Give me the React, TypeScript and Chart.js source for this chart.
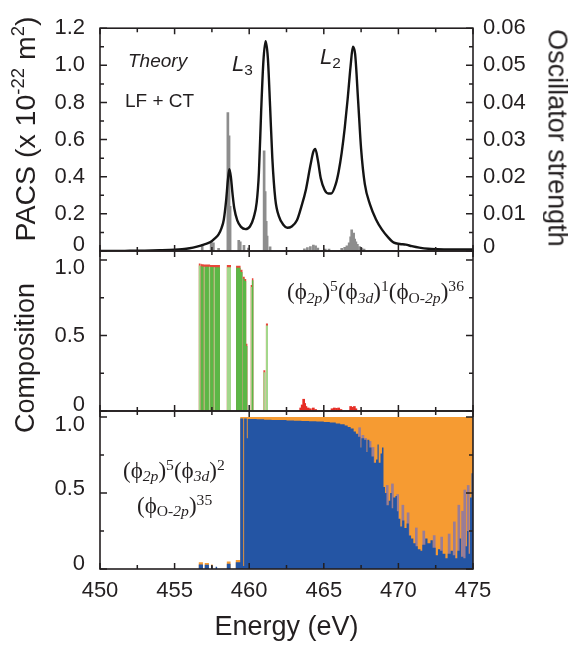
import React, { useEffect, useRef } from "react";
import { Chart, registerables } from "chart.js";

Chart.register(...registerables);

// ---------------- data ----------------
// Top panel: photoabsorption cross section (PACS, left axis)
const pacsEnergy = [
  450.0, 451.0, 452.0, 453.0, 454.0, 455.0, 455.5, 456.0, 456.5, 457.0, 457.4, 457.7, 457.95,
  458.15, 458.3, 458.45, 458.57, 458.67, 458.77, 458.88, 459.0, 459.2, 459.45, 459.75, 460.05,
  460.3, 460.5, 460.65, 460.8, 460.95, 461.1, 461.25, 461.4, 461.55, 461.75, 462.0, 462.3,
  462.55, 462.85, 463.2, 463.5, 463.8, 464.1, 464.3, 464.43, 464.6, 464.8, 465.05, 465.3,
  465.5, 465.8, 466.0, 466.2, 466.4, 466.6, 466.8, 466.95, 467.1, 467.3, 467.5, 467.75,
  468.1, 468.5, 468.9, 469.3, 469.7, 470.1, 470.5, 470.9, 471.4, 472.0, 472.6, 473.5, 474.3, 475.0,
];
const pacsValue = [
  0.0, 0.0, 0.001, 0.002, 0.004, 0.007, 0.01, 0.015, 0.024, 0.036, 0.048, 0.068, 0.09,
  0.125, 0.17, 0.27, 0.38, 0.44, 0.4, 0.31, 0.23, 0.165, 0.13, 0.118, 0.132,
  0.18, 0.26, 0.42, 0.75, 1.02, 1.13, 1.04, 0.78, 0.5, 0.28, 0.185, 0.14,
  0.125, 0.132, 0.165, 0.24, 0.33, 0.46, 0.535, 0.55, 0.49, 0.39, 0.33, 0.31,
  0.31, 0.36, 0.43, 0.53, 0.66, 0.82, 1.0, 1.1, 1.06, 0.81, 0.55, 0.36,
  0.25, 0.17, 0.115, 0.075, 0.045, 0.038, 0.034, 0.026, 0.018, 0.012, 0.01, 0.009, 0.009, 0.009,
];
// Top panel: oscillator strengths (right axis)
const stickEnergy = [
  456.85, 457.45, 457.6, 457.95, 458.57, 458.65, 458.72, 459.3, 459.4, 459.65, 459.95,
  461.0, 461.07, 461.14, 461.2, 461.4, 463.7, 463.9, 464.1, 464.3, 464.45, 464.6, 465.1, 465.35,
  466.2, 466.4, 466.55, 466.7, 466.8, 466.87, 466.93, 467.0, 467.07, 467.15, 467.25, 467.4, 467.55, 467.7,
];
const stickStrength = [
  0.0018, 0.0024, 0.0022, 0.0007, 0.0373, 0.031, 0.012, 0.0029, 0.0025, 0.0015, 0.0008,
  0.027, 0.016, 0.008, 0.004, 0.0011, 0.0006, 0.0009, 0.0012, 0.0016, 0.0014, 0.0008, 0.0005, 0.0005,
  0.0007, 0.001, 0.0014, 0.0022, 0.0038, 0.0057, 0.0045, 0.0048, 0.0032, 0.0025, 0.0018, 0.0012, 0.0008, 0.0005,
];

// Middle panel: (phi2p)5(phi3d)1(phiO-2p)36 composition
const greenStart = [
  456.62, 456.74, 456.8, 456.95, 457.02, 457.3, 457.38, 457.62, 457.7, 458.5,
  459.12, 459.42, 459.58, 459.7, 459.8, 460.1, 460.18, 460.95, 461.12,
];
const greenEnd = [
  456.72, 456.8, 456.95, 457.02, 457.3, 457.38, 457.62, 457.7, 458.04, 458.78,
  459.42, 459.55, 459.7, 459.8, 459.88, 460.18, 460.28, 461.08, 461.26,
];
const greenValue = [
  0.978, 0.975, 0.972, 0.97, 0.97, 0.97, 0.968, 0.967, 0.967, 0.967,
  0.963, 0.935, 0.89, 0.875, 0.445, 0.835, 0.88, 0.27, 0.58,
];
const greenTone = [
  "light", "dark", "dark", "light", "dark", "light", "dark", "light", "dark", "light",
  "dark", "dark", "dark", "dark", "dark", "light", "dark", "light", "light",
];
const redEnergy = [
  463.45, 463.55, 463.65, 463.72, 463.8, 463.95, 464.1, 464.3, 464.45,
  465.55, 465.7, 465.85, 466.0, 466.15, 466.8, 466.9, 467.05, 467.15,
];
const redValue = [
  0.02, 0.04, 0.078, 0.05, 0.03, 0.02, 0.015, 0.02, 0.01,
  0.015, 0.02, 0.018, 0.02, 0.01, 0.03, 0.025, 0.03, 0.015,
];

// Bottom panel: (phi2p)5(phi3d)2(phiO-2p)35 composition (blue) and the rest (orange)
const blueEnergy = [
  450.0, 456.62, 456.9, 457.02, 457.3, 457.45, 457.55, 457.75, 457.85, 458.5, 458.75, 459.1,
  459.4, 459.6, 459.66, 459.84, 459.9, 460.5, 461.0, 461.5, 462.0, 462.5, 463.0, 463.5,
  464.0, 464.5, 465.0, 465.4, 465.8, 466.1, 466.4, 466.6, 466.8, 467.0, 467.15, 467.3,
  467.45, 467.52, 467.7, 467.85, 467.92, 468.05, 468.2, 468.35, 468.5, 468.6, 468.68, 468.8,
  468.9, 469.0, 469.1, 469.2, 469.35, 469.45, 469.55, 469.65, 469.8, 469.9, 470.0, 470.13,
  470.25, 470.4, 470.55, 470.7, 470.85, 471.0, 471.15, 471.3, 471.48, 471.6, 471.8, 471.95,
  472.15, 472.3, 472.5, 472.65, 472.8, 472.95, 473.15, 473.3, 473.5, 473.65, 473.8, 473.95,
  474.1, 474.2, 474.35, 474.5, 474.6, 474.7, 474.8, 474.9, 475.0,
];
const blueValue = [
  0, 0.03, 0, 0.028, 0, 0.02, 0, 0.015, 0, 0.035, 0, 0.045,
  0.99, 0.02, 0.99, 0.86, 0.988, 0.985, 0.983, 0.981, 0.98, 0.978, 0.976, 0.975,
  0.973, 0.971, 0.968, 0.964, 0.958, 0.952, 0.945, 0.935, 0.925, 0.905, 0.89, 0.87,
  0.8, 0.86, 0.85, 0.77, 0.85, 0.8, 0.74, 0.7, 0.72, 0.82, 0.7, 0.76,
  0.8, 0.54, 0.5, 0.42, 0.45, 0.5, 0.4, 0.47, 0.48, 0.38, 0.33, 0.28,
  0.32, 0.27, 0.3, 0.22, 0.2, 0.17, 0.15, 0.13, 0.12, 0.16, 0.2, 0.17,
  0.19, 0.14, 0.09, 0.13, 0.12, 0.1, 0.07, 0.1, 0.12, 0.09, 0.07, 0.12,
  0.2, 0.08, 0.07, 0.15, 0.25, 0.1, 0.47, 0.63, 0.63,
];
const orangeEnergy = [450.0, 456.62, 456.9, 457.02, 457.3, 457.45, 457.55, 458.5, 458.75, 459.1, 459.4, 475.0];
const orangeValue = [0, 0.045, 0, 0.04, 0, 0.03, 0, 0.05, 0, 0.06, 1.0, 1.0];
const streakEnergy = [
  467.4, 467.62, 467.8, 468.1, 468.3, 469.25, 469.6, 469.95, 470.3, 470.65,
  471.2, 471.7, 472.4, 472.9, 473.4, 473.75, 474.05, 474.3, 474.45, 474.68,
];
const streakValue = [
  0.93, 0.88, 0.86, 0.84, 0.8, 0.55, 0.56, 0.49, 0.42, 0.37,
  0.27, 0.25, 0.22, 0.21, 0.23, 0.31, 0.42, 0.38, 0.52, 0.55,
];

// tick labels
const energyTickLabels = [450, 455, 460, 465, 470, 475];
const pacsTickLabels = [0, 0.2, 0.4, 0.6, 0.8, 1.0, 1.2];
const oscTickLabels = [0, 0.01, 0.02, 0.03, 0.04, 0.05, 0.06];
const compTickLabels = [0, 0.5, 1.0];

// ---------------- layout & style ----------------
const W = 568;
const H = 646;
const PLOT_R = 473;
const LEFT_W = 100;
const P1_TOP = 16;
const P1_BOT = 251;
const P2_BOT = 411;
const P3_BOT = 569;
const INK = "#231f20";
const SANS = "'Liberation Sans', Arial, Helvetica, sans-serif";
const SERIF = "'Liberation Serif', 'Times New Roman', Times, serif";
const TICK_FONT = 22;

Chart.defaults.font.family = SANS;

const pts = (xs: number[], ys: number[]) => xs.map((x, i) => ({ x, y: ys[i] }));

function barsToSteps(tone: string | null, lower: number) {
  const out: { x: number; y: number }[] = [{ x: 450, y: 0 }];
  greenStart.forEach((s, i) => {
    if (tone && greenTone[i] !== tone) return;
    out.push({ x: s, y: Math.max(0, greenValue[i] - lower) });
    out.push({ x: greenEnd[i], y: 0 });
  });
  out.push({ x: 475, y: 0 });
  return out;
}

function fmt(v: number, d: number) {
  return Math.abs(v) < 1e-9 ? "0" : v.toFixed(d);
}

// shift selected labels a little (as in the figure) with two-line labels
function yTicks(values: number[], decimals: number, shifts: Record<string, number>, padding: number) {
  return {
    afterBuildTicks: (s: any) => {
      s.ticks = values.map((v) => ({ value: v }));
    },
    ticks: {
      color: INK,
      padding,
      autoSkip: false,
      font: (c: any) => {
        const key = c.tick ? fmt(c.tick.value, decimals) : "";
        const sh = shifts[key];
        return { family: SANS, size: TICK_FONT, lineHeight: sh ? `${Math.abs(sh) * 2}px` : 1.2 };
      },
      callback: (v: any) => {
        const key = fmt(Number(v), decimals);
        const sh = shifts[key];
        if (!sh) return key;
        return sh < 0 ? [key, ""] : ["", key];
      },
    },
    grid: { display: false, drawTicks: false },
    border: { display: false },
  };
}

function framePlugin(name: string, yMax: number, yStep: number) {
  return {
    id: "frame" + name,
    afterDatasetsDraw(chart: any) {
      const { ctx, chartArea: a, scales } = chart;
      ctx.save();
      ctx.strokeStyle = INK;
      ctx.lineWidth = 1.6;
      ctx.strokeRect(a.left, a.top, a.right - a.left, a.bottom - a.top);
      ctx.lineWidth = 1.5;
      ctx.beginPath();
      for (let k = 0; k <= 10; k++) {
        const x = scales.x.getPixelForValue(450 + 2.5 * k);
        const len = k % 2 === 0 ? 6 : 4;
        ctx.moveTo(x, a.top);
        ctx.lineTo(x, a.top + len);
        ctx.moveTo(x, a.bottom);
        ctx.lineTo(x, a.bottom - len);
      }
      const n = Math.round(yMax / yStep);
      for (let k = 0; k <= n; k++) {
        const y = scales.y.getPixelForValue(k * yStep);
        const len = k % 2 === 0 ? 7 : 4;
        ctx.moveTo(a.left, y);
        ctx.lineTo(a.left + len, y);
        ctx.moveTo(a.right, y);
        ctx.lineTo(a.right - len, y);
      }
      ctx.stroke();
      ctx.restore();
    },
  };
}

const hiddenX = { type: "linear", min: 450, max: 475, display: false, offset: false };
const common = {
  responsive: false,
  animation: false,
  devicePixelRatio: 1,
  events: [],
};
const noPlugins = { legend: { display: false }, tooltip: { enabled: false } };

function topConfig(): any {
  return {
    type: "line",
    data: {
      datasets: [
        {
          type: "line",
          data: pts(pacsEnergy, pacsValue),
          borderColor: "#141414",
          borderWidth: 2.4,
          pointRadius: 0,
          cubicInterpolationMode: "monotone",
          yAxisID: "y",
          order: 0,
        },
        {
          type: "bar",
          data: pts(stickEnergy, stickStrength),
          backgroundColor: "#8d8d8d",
          borderWidth: 0,
          barThickness: 2,
          yAxisID: "y2",
          order: 1,
        },
      ],
    },
    options: {
      ...common,
      layout: { padding: { left: 0, right: 0, top: P1_TOP, bottom: H - P1_BOT } },
      plugins: noPlugins,
      scales: {
        x: hiddenX,
        y: {
          type: "linear",
          position: "left",
          min: 0,
          max: 1.2,
          ...yTicks(pacsTickLabels, 1, { "0": -6 }, 15),
          afterFit: (s: any) => {
            s.width = LEFT_W;
          },
        },
        y2: {
          type: "linear",
          position: "right",
          min: 0,
          max: 0.06,
          ...yTicks(oscTickLabels, 2, { "0": -4 }, 10),
          afterFit: (s: any) => {
            s.width = W - PLOT_R;
          },
        },
      },
    },
    plugins: [framePlugin("top", 1.2, 0.1)],
  };
}

function midConfig(): any {
  const fillLine = (data: any, color: string, order: number) => ({
    type: "line",
    data,
    stepped: "before",
    fill: "origin",
    backgroundColor: color,
    borderColor: "rgba(0,0,0,0)",
    borderWidth: 0,
    pointRadius: 0,
    order,
  });
  return {
    type: "line",
    data: {
      datasets: [
        fillLine(barsToSteps(null, 0), "#e8473a", 3),
        fillLine(barsToSteps("dark", 0.014), "#5bb746", 2),
        fillLine(barsToSteps("light", 0.014), "#a3d78b", 1),
        {
          type: "bar",
          data: pts(redEnergy, redValue),
          backgroundColor: "#e62e26",
          borderWidth: 0,
          barThickness: 2,
          order: 0,
        },
      ],
    },
    options: {
      ...common,
      layout: { padding: { left: 0, right: W - PLOT_R, top: P1_BOT, bottom: H - P2_BOT } },
      plugins: noPlugins,
      scales: {
        x: hiddenX,
        y: {
          type: "linear",
          position: "left",
          min: 0,
          max: 1.06,
          ...yTicks(compTickLabels, 1, { "0": -6, "1.0": 8 }, 15),
          afterFit: (s: any) => {
            s.width = LEFT_W;
          },
        },
      },
    },
    plugins: [framePlugin("mid", 1.0, 0.25)],
  };
}

function botConfig(): any {
  return {
    type: "line",
    data: {
      datasets: [
        {
          type: "line",
          data: pts(orangeEnergy, orangeValue),
          stepped: "before",
          fill: "origin",
          backgroundColor: "#f69b32",
          borderColor: "rgba(0,0,0,0)",
          borderWidth: 0,
          pointRadius: 0,
          order: 3,
        },
        {
          type: "bar",
          data: pts(streakEnergy, streakValue),
          backgroundColor: "rgba(138,120,168,0.85)",
          borderWidth: 0,
          barThickness: 2,
          order: 2,
        },
        {
          type: "line",
          data: pts(blueEnergy, blueValue),
          stepped: "before",
          fill: "origin",
          backgroundColor: "#2455a4",
          borderColor: "rgba(0,0,0,0)",
          borderWidth: 0,
          pointRadius: 0,
          order: 1,
        },
      ],
    },
    options: {
      ...common,
      layout: { padding: { left: 0, right: W - PLOT_R, top: P2_BOT, bottom: 0 } },
      plugins: noPlugins,
      scales: {
        x: {
          type: "linear",
          position: "bottom",
          min: 450,
          max: 475,
          offset: false,
          afterBuildTicks: (s: any) => {
            s.ticks = energyTickLabels.map((v) => ({ value: v }));
          },
          ticks: {
            color: INK,
            padding: 9,
            maxRotation: 0,
            autoSkip: false,
            font: { family: SANS, size: TICK_FONT },
            callback: (v: any) => String(v),
          },
          grid: { display: false, drawTicks: false },
          border: { display: false },
          afterFit: (s: any) => {
            s.height = H - P3_BOT;
          },
        },
        y: {
          type: "linear",
          position: "left",
          min: 0,
          max: 1.04,
          ...yTicks(compTickLabels, 1, { "0": -5, "0.5": -4, "1.0": 8 }, 15),
          afterFit: (s: any) => {
            s.width = LEFT_W;
          },
        },
      },
    },
    plugins: [framePlugin("bot", 1.0, 0.25)],
  };
}

function Panel({ build }: { build: () => any }) {
  const ref = useRef<HTMLCanvasElement | null>(null);
  useEffect(() => {
    if (!ref.current) return;
    const chart = new Chart(ref.current, build());
    return () => chart.destroy();
  }, [build]);
  return (
    <canvas
      ref={ref}
      width={W}
      height={H}
      style={{ position: "absolute", left: 0, top: 0, width: W, height: H }}
    />
  );
}

const subS: React.CSSProperties = { fontSize: "0.68em", position: "relative", top: "0.25em", verticalAlign: "baseline", lineHeight: 0 };
const supS: React.CSSProperties = { fontSize: "0.68em", position: "relative", top: "-0.5em", verticalAlign: "baseline", lineHeight: 0 };

function Orb({ sub, sup }: { sub: React.ReactNode; sup: string }) {
  return (
    <>
      (ϕ<span style={subS}>{sub}</span>)<span style={supS}>{sup}</span>
    </>
  );
}

const abs = (left: number, top: number, extra: React.CSSProperties = {}): React.CSSProperties => ({
  position: "absolute",
  left,
  top,
  lineHeight: 1,
  whiteSpace: "nowrap",
  color: INK,
  ...extra,
});

const rot = (cx: number, cy: number, deg: number, size: number): React.CSSProperties => ({
  position: "absolute",
  left: cx,
  top: cy,
  transform: `translate(-50%, -50%) rotate(${deg}deg)`,
  fontFamily: SANS,
  fontSize: size,
  lineHeight: 1,
  whiteSpace: "nowrap",
  color: INK,
});

const smallSup: React.CSSProperties = { fontSize: "0.65em", position: "relative", top: "-0.6em", verticalAlign: "baseline", lineHeight: 0 };

export default function App() {
  return (
    <div
      style={{
        position: "absolute",
        left: 0,
        top: 0,
        width: W,
        height: H,
        overflow: "hidden",
        background: "#ffffff",
      }}
    >
      <Panel build={topConfig} />
      <Panel build={midConfig} />
      <Panel build={botConfig} />

      {/* annotations in the top panel */}
      <div style={abs(128, 50.5, { fontFamily: SANS, fontSize: 19, fontStyle: "italic" })}>Theory</div>
      <div style={abs(125, 91, { fontFamily: SANS, fontSize: 19 })}>LF + CT</div>
      <div style={abs(232, 53, { fontFamily: SANS, fontSize: 22 })}>
        <i>L</i>
        <span style={{ fontSize: "0.7em", position: "relative", top: "0.25em", lineHeight: 0 }}>3</span>
      </div>
      <div style={abs(320, 46, { fontFamily: SANS, fontSize: 22 })}>
        <i>L</i>
        <span style={{ fontSize: "0.7em", position: "relative", top: "0.25em", lineHeight: 0 }}>2</span>
      </div>

      {/* configuration labels */}
      <div style={abs(287, 280, { fontFamily: SERIF, fontSize: 23 })}>
        <Orb sub={<i>2p</i>} sup="5" />
        <Orb sub={<i>3d</i>} sup="1" />
        <Orb sub={<>O-<i>2p</i></>} sup="36" />
      </div>
      <div style={abs(123, 458.5, { fontFamily: SERIF, fontSize: 23 })}>
        <Orb sub={<i>2p</i>} sup="5" />
        <Orb sub={<i>3d</i>} sup="2" />
      </div>
      <div style={abs(137, 493.5, { fontFamily: SERIF, fontSize: 23 })}>
        <Orb sub={<>O-<i>2p</i></>} sup="35" />
      </div>

      {/* axis titles */}
      <div style={rot(25, 128.5, -90, 28.5)}>
        PACS (x 10<span style={smallSup}>-22</span> m<span style={smallSup}>2</span>)
      </div>
      <div style={rot(557, 137.5, 90, 27)}>Oscillator strength</div>
      <div style={rot(25, 358, -90, 27)}>Composition</div>
      <div style={{ ...rot(286.5, 625.5, 0, 27) }}>Energy (eV)</div>
    </div>
  );
}
